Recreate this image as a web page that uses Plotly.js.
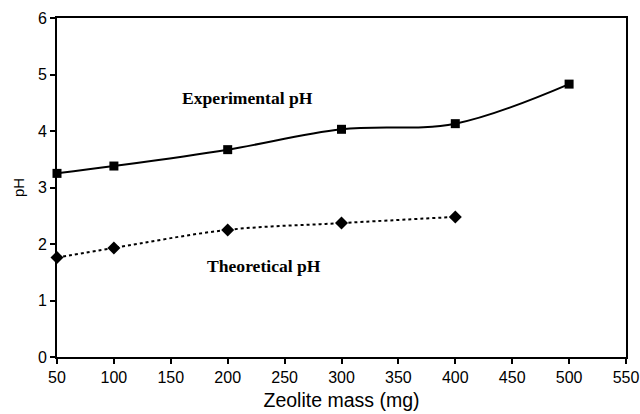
<!DOCTYPE html>
<html>
<head>
<meta charset="utf-8">
<script src="https://cdn.plot.ly/plotly-3.0.1.min.js"></script>
<style>
  html, body { margin: 0; padding: 0; background: #fff; }
  #chart { width: 640px; height: 414px; }
</style>
</head>
<body>
<div id="chart"></div>
<script>
// Zeolite mass (mg) against measured and calculated pH
const zeoliteMass = [50, 100, 200, 300, 400, 500];
const experimentalPH = [3.25, 3.38, 3.67, 4.03, 4.13, 4.83];
const theoreticalMass = [50, 100, 200, 300, 400];
const theoreticalPH = [1.76, 1.93, 2.25, 2.37, 2.48];

const xTicks = [50, 100, 150, 200, 250, 300, 350, 400, 450, 500, 550];
const yTicks = [0, 1, 2, 3, 4, 5, 6];

const traces = [
  {
    x: zeoliteMass,
    y: experimentalPH,
    name: 'Experimental pH',
    mode: 'lines+markers',
    line: { color: '#000', width: 2, shape: 'spline', smoothing: 1 },
    marker: { symbol: 'square', size: 9, color: '#000' },
    cliponaxis: false
  },
  {
    x: theoreticalMass,
    y: theoreticalPH,
    name: 'Theoretical pH',
    mode: 'lines+markers',
    line: { color: '#000', width: 2, dash: '3px,3px', shape: 'spline', smoothing: 1 },
    marker: { symbol: 'diamond', size: 10, color: '#000' },
    cliponaxis: false
  }
];

const axisCommon = {
  showgrid: false,
  zeroline: false,
  showline: true,
  linecolor: '#000',
  linewidth: 2,
  mirror: true,
  ticks: 'outside',
  ticklen: 5,
  tickwidth: 2,
  tickcolor: '#000',
  tickfont: { family: 'Liberation Sans, Arial, sans-serif', size: 16, color: '#000' }
};

const layout = {
  width: 640,
  height: 414,
  margin: { l: 57, r: 14, t: 18, b: 57 },
  paper_bgcolor: '#fff',
  plot_bgcolor: '#fff',
  showlegend: false,
  xaxis: Object.assign({}, axisCommon, {
    range: [50, 550],
    tickvals: xTicks,
    ticktext: xTicks.map(String),
    title: { text: 'Zeolite mass (mg)', standoff: 8,
             font: { family: 'Liberation Sans, Arial, sans-serif', size: 19.5, color: '#000' } }
  }),
  yaxis: Object.assign({}, axisCommon, {
    range: [0, 6],
    tickvals: yTicks,
    ticktext: yTicks.map(String),
    title: { text: 'pH', standoff: 10,
             font: { family: 'Liberation Sans, Arial, sans-serif', size: 15, color: '#000' } }
  }),
  annotations: [
    {
      x: 217.6, y: 4.59, xref: 'x', yref: 'y',
      text: '<b>Experimental pH</b>', showarrow: false,
      font: { family: 'Liberation Serif, Times New Roman, serif', size: 17.6, color: '#000' }
    },
    {
      x: 232, y: 1.61, xref: 'x', yref: 'y',
      text: '<b>Theoretical pH</b>', showarrow: false,
      font: { family: 'Liberation Serif, Times New Roman, serif', size: 17.6, color: '#000' }
    }
  ]
};

Plotly.newPlot('chart', traces, layout, { staticPlot: true, displayModeBar: false });
</script>
</body>
</html>
